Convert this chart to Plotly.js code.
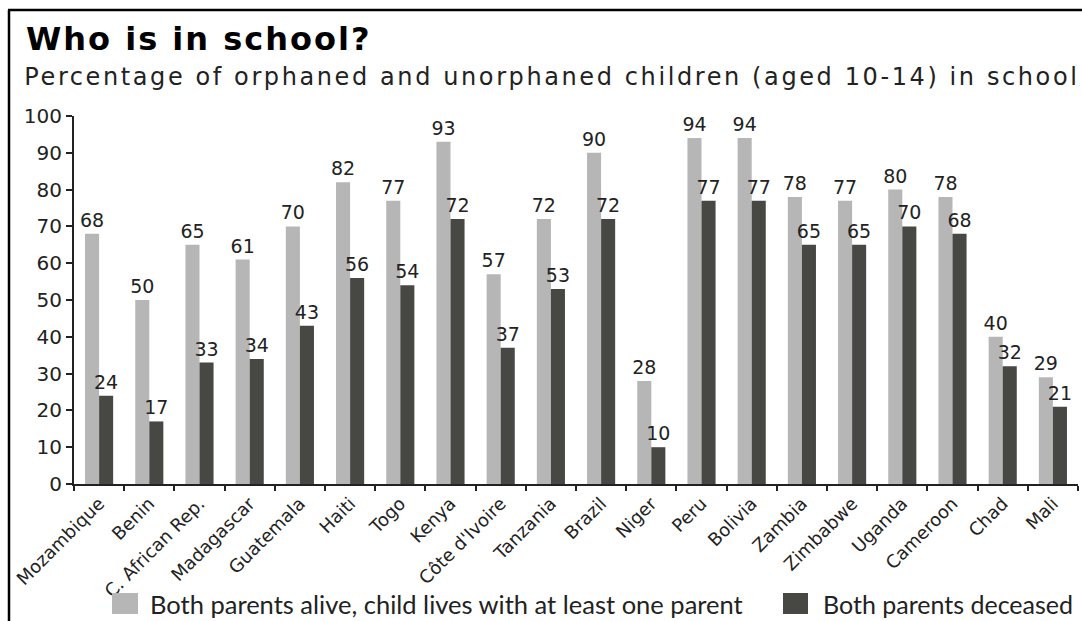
<!DOCTYPE html>
<html>
<head>
<meta charset="utf-8">
<script src="https://cdn.plot.ly/plotly-3.0.1.min.js"></script>
<style>
html,body{margin:0;padding:0;background:#fff;}
#chart{width:1082px;height:621px;}
g.annotation[data-index="0"] text{letter-spacing:2px;}
g.annotation[data-index="1"] text{letter-spacing:2.6px;}
</style>
</head>
<body>
<div id="chart"></div>
<script>
const countries = ["Mozambique","Benin","C. African Rep.","Madagascar","Guatemala","Haiti","Togo","Kenya","Côte d'Ivoire","Tanzania","Brazil","Niger","Peru","Bolivia","Zambia","Zimbabwe","Uganda","Cameroon","Chad","Mali"];
const bothAlive = [68,50,65,61,70,82,77,93,57,72,90,28,94,94,78,77,80,78,40,29];
const bothDeceased = [24,17,33,34,43,56,54,72,37,53,72,10,77,77,65,65,70,68,32,21];
const seriesNames = ["Both parents alive, child lives with at least one parent","Both parents deceased"];
const yTicks = [0,10,20,30,40,50,60,70,80,90,100];

const WIDE = "'DejaVu Sans', sans-serif";
const NARROW = "Lato, 'Open Sans', sans-serif";
const lightC = "#b6b6b6", darkC = "#474744";

const traces = [
  {type:"bar", x:countries, y:bothAlive, name:seriesNames[0], marker:{color:lightC},
   text:bothAlive.map(String), textposition:"outside", cliponaxis:false, constraintext:"none",
   textfont:{family:WIDE,size:19,color:"#222"}, hoverinfo:"x+y"},
  {type:"bar", x:countries, y:bothDeceased, name:seriesNames[1], marker:{color:darkC},
   text:bothDeceased.map(String), textposition:"outside", cliponaxis:false, constraintext:"none",
   textfont:{family:WIDE,size:19,color:"#222"}, hoverinfo:"x+y"}
];

const L=74, R=1078, T=116, B=484, W=1082, H=621;
const px = x => (x-L)/(R-L);
const py = y => (B-y)/(B-T);

const layout = {
  width:W, height:H,
  margin:{l:L, r:W-R, t:T, b:H-B, pad:0},
  paper_bgcolor:"#fff", plot_bgcolor:"#fff",
  barmode:"group", bargap:0.44, bargroupgap:0,
  showlegend:false,
  font:{family:WIDE, color:"#222"},
  xaxis:{type:"category", tickangle:-45, tickson:"boundaries", ticks:"outside", ticklen:5, tickwidth:1.5,
         tickcolor:"#222", showline:true, linecolor:"#222", linewidth:2, showgrid:false,
         tickfont:{family:WIDE,size:18,color:"#222"}, automargin:false},
  yaxis:{range:[0,100], tickvals:yTicks, ticktext:yTicks.map(String), ticks:"outside", ticklen:6, tickwidth:1.5,
         tickcolor:"#222", showline:true, linecolor:"#222", linewidth:2, showgrid:false, zeroline:false,
         tickfont:{family:WIDE,size:20,color:"#222"}, automargin:false},
  shapes:[
    {type:"line", xref:"paper", yref:"paper", x0:px(8), x1:px(1090), y0:py(10), y1:py(10), line:{color:"#000",width:2.5}},
    {type:"line", xref:"paper", yref:"paper", x0:px(9), x1:px(9), y0:py(10), y1:py(630), line:{color:"#000",width:2.5}},
    {type:"rect", xref:"paper", yref:"paper", x0:px(112), x1:px(138), y0:py(614), y1:py(593), fillcolor:lightC, line:{width:0}},
    {type:"rect", xref:"paper", yref:"paper", x0:px(783), x1:px(808), y0:py(614), y1:py(593), fillcolor:darkC, line:{width:0}}
  ],
  annotations:[
    {xref:"paper", yref:"paper", x:px(199), y:py(39), xanchor:"center", yanchor:"middle", showarrow:false,
     text:"<b>Who is in school?</b>", font:{family:WIDE, size:32, color:"#000"}},
    {xref:"paper", yref:"paper", x:px(552), y:py(77), xanchor:"center", yanchor:"middle", showarrow:false,
     text:"Percentage of orphaned and unorphaned children (aged 10-14) in school", font:{family:WIDE, size:24, color:"#222"}},
    {xref:"paper", yref:"paper", x:px(148), y:py(604), xanchor:"left", yanchor:"middle", showarrow:false,
     text:seriesNames[0], font:{family:NARROW, size:25.5, color:"#222"}},
    {xref:"paper", yref:"paper", x:px(821), y:py(604), xanchor:"left", yanchor:"middle", showarrow:false,
     text:seriesNames[1], font:{family:NARROW, size:25, color:"#222"}}
  ]
};

Plotly.newPlot("chart", traces, layout, {displayModeBar:false, responsive:false});
</script>
</body>
</html>
